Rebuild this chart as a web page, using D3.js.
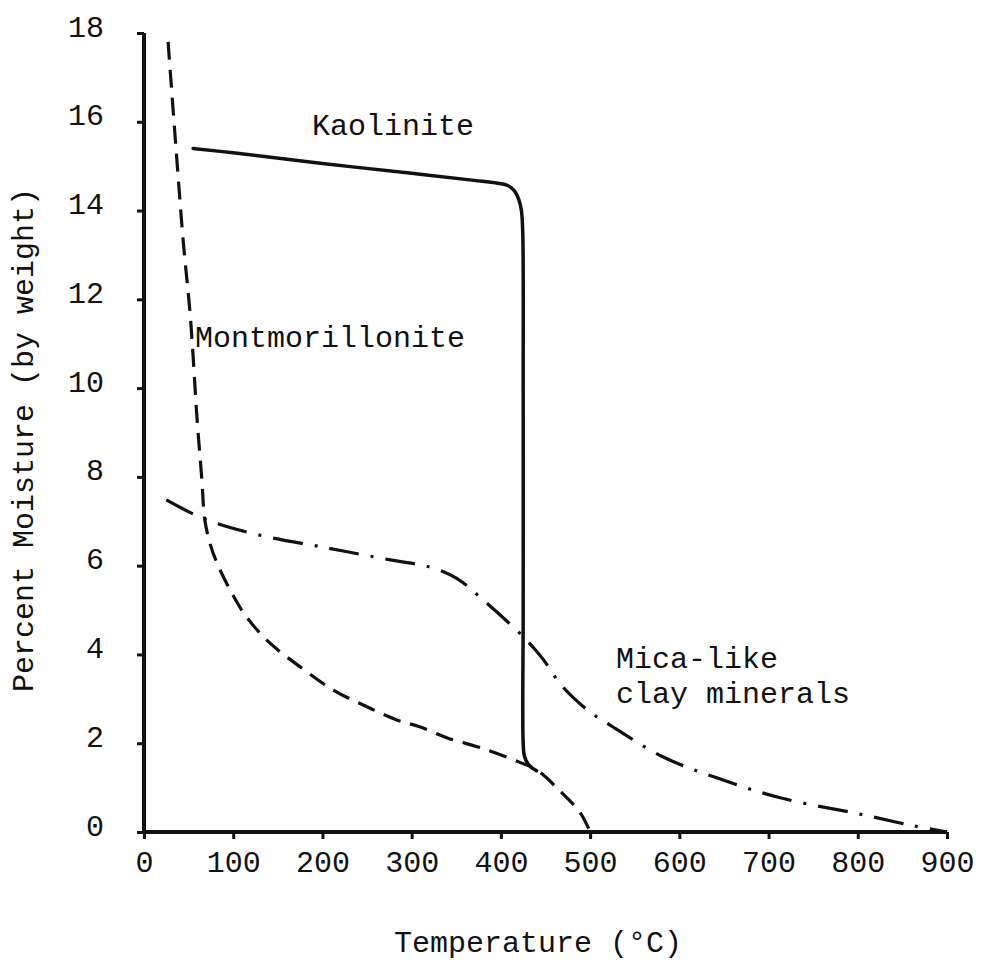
<!DOCTYPE html>
<html>
<head>
<meta charset="utf-8">
<script src="https://cdn.jsdelivr.net/npm/d3@7"></script>
<style>
  html, body { margin: 0; padding: 0; background: #fff; }
  svg { display: block; }
  text { font-family: "Liberation Mono", "DejaVu Sans Mono", monospace; fill: #111; }
</style>
</head>
<body>
<svg id="chart" width="991" height="971"></svg>
<script>
// Moisture loss on heating for three clay mineral groups
const xTicks = [0, 100, 200, 300, 400, 500, 600, 700, 800, 900];
const yTicks = [0, 2, 4, 6, 8, 10, 12, 14, 16, 18];

// [temperature °C, percent moisture]
const kaolinite = [
  [55, 15.4], [100, 15.3], [200, 15.06], [300, 14.84], [370, 14.68], [395, 14.62],
  [407, 14.57], [415, 14.45], [420, 14.25], [423, 14.0], [424.5, 13.5], [425, 10],
  [425, 5], [425, 2.0], [426.5, 1.7], [431, 1.52], [440, 1.38]
];
const montmorillonite = [
  [27, 17.8], [37, 15.1], [44, 13.3], [52, 11.6], [59.5, 9.3], [65, 7.9],
  [68, 7.05], [74, 6.5], [82, 6.05], [98, 5.4], [115, 4.84], [141, 4.26],
  [175, 3.72], [212, 3.2], [250, 2.82], [284, 2.52], [309, 2.37], [340, 2.12],
  [380, 1.88], [420, 1.58], [440, 1.4], [465, 0.95], [489, 0.43], [500, 0]
];
const micaLike = [
  [25, 7.48], [68, 7.05], [127, 6.7], [205, 6.4], [276, 6.13], [320, 5.97],
  [350, 5.72], [380, 5.23], [425, 4.4], [447, 3.9], [468, 3.3], [500, 2.7],
  [519, 2.45], [582, 1.69], [642, 1.22], [713, 0.77], [803, 0.4], [860, 0.15], [900, 0]
];

const svg = d3.select("#chart");
const x = d3.scaleLinear().domain([0, 900]).range([144, 947]);
const y = d3.scaleLinear().domain([0, 18]).range([832, 33]);

const FONT = 30;

// axes
const xAxis = svg.append("g")
  .attr("transform", `translate(0,${y(0)})`)
  .call(d3.axisBottom(x).tickValues(xTicks).tickSize(7).tickPadding(12).tickSizeOuter(0));
const yAxis = svg.append("g")
  .attr("transform", `translate(${x(0)},0)`)
  .call(d3.axisLeft(y).tickValues(yTicks).tickSize(7).tickPadding(33).tickSizeOuter(0));

[xAxis, yAxis].forEach(g => {
  g.select(".domain").attr("stroke", "#111").attr("stroke-width", 4);
  g.selectAll(".tick line").attr("stroke", "#111").attr("stroke-width", 3);
  g.selectAll(".tick text")
    .style("font-family", '"Liberation Mono", monospace')
    .style("font-size", FONT + "px")
    .attr("fill", "#111");
});
yAxis.selectAll(".tick text").attr("dy", "0.1em");
// axis lines run exactly over the data range
xAxis.select(".domain").attr("d", `M${x(0)},0H${x(900)}`);
yAxis.select(".domain").attr("d", `M0,${y(18)}V${y(0)}`);

// curves
const line = d3.line()
  .x(d => x(d[0]))
  .y(d => y(d[1]))
  .curve(d3.curveCatmullRom.alpha(0.5));

svg.append("path").datum(kaolinite)
  .attr("d", line).attr("fill", "none")
  .attr("stroke", "#111").attr("stroke-width", 3.5)
  .attr("stroke-linecap", "round").attr("stroke-linejoin", "round");

svg.append("path").datum(montmorillonite)
  .attr("d", line).attr("fill", "none")
  .attr("stroke", "#111").attr("stroke-width", 3.2)
  .attr("stroke-dasharray", "18,10");

svg.append("path").datum(micaLike)
  .attr("d", line).attr("fill", "none")
  .attr("stroke", "#111").attr("stroke-width", 3.2)
  .attr("stroke-dasharray", "30,12,3,12");

// curve labels
const labels = [
  { text: "Kaolinite", x: 312, y: 135 },
  { text: "Montmorillonite", x: 195, y: 347 },
  { text: "Mica-like", x: 616, y: 668 },
  { text: "clay minerals", x: 616, y: 703 }
];
svg.selectAll("text.curve-label").data(labels).join("text")
  .attr("class", "curve-label")
  .attr("x", d => d.x).attr("y", d => d.y)
  .style("font-size", FONT + "px")
  .text(d => d.text);

// axis titles
svg.append("text")
  .attr("x", 538).attr("y", 952)
  .attr("text-anchor", "middle")
  .style("font-size", FONT + "px")
  .text("Temperature (°C)");

svg.append("text")
  .attr("transform", `translate(33,440) rotate(-90)`)
  .attr("text-anchor", "middle")
  .style("font-size", FONT + "px")
  .text("Percent Moisture (by weight)");
</script>
</body>
</html>
